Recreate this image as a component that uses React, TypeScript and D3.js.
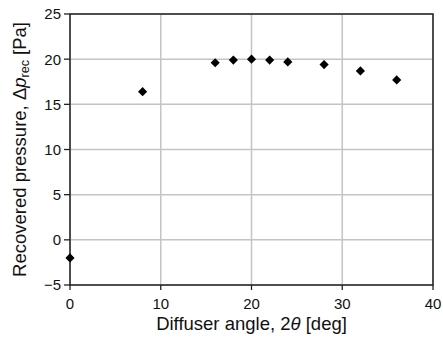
import React from "react";
import * as d3 from "d3";

const angles = [0, 8, 16, 18, 20, 22, 24, 28, 32, 36];
const pressures = [-2.0, 16.4, 19.6, 19.9, 20.0, 19.9, 19.7, 19.4, 18.7, 17.7];
const xTicks = [0, 10, 20, 30, 40];
const yTicks = [-5, 0, 5, 10, 15, 20, 25];

export default function App() {
  const W = 443, H = 337;
  const m = { left: 70, right: 10, top: 14, bottom: 52 };
  const x = d3.scaleLinear().domain([0, 40]).range([m.left, W - m.right]);
  const y = d3.scaleLinear().domain([-5, 25]).range([H - m.bottom, m.top]);
  const font = "'Liberation Sans', Arial, sans-serif";
  const sym = d3.symbol().type(d3.symbolSquare).size(42)() as string;
  return (
    <svg width={W} height={H} style={{ position: "absolute", left: 0, top: 0 }} fontFamily={font}>
      {yTicks.map((t) => (
        <line key={"gy" + t} x1={x(0)} x2={x(40)} y1={y(t)} y2={y(t)} stroke="#c4c4c4" strokeWidth={1.5} />
      ))}
      {xTicks.map((t) => (
        <line key={"gx" + t} x1={x(t)} x2={x(t)} y1={y(-5)} y2={y(25)} stroke="#c4c4c4" strokeWidth={1.5} />
      ))}
      <rect x={x(0)} y={y(25)} width={x(40) - x(0)} height={y(-5) - y(25)} fill="none" stroke="#222" strokeWidth={1.5} />
      {yTicks.map((t) => (
        <g key={"ty" + t}>
          <line x1={x(0) - 6} x2={x(0)} y1={y(t)} y2={y(t)} stroke="#222" strokeWidth={1.3} />
          <text x={x(0) - 9} y={y(t)} dy="0.36em" textAnchor="end" fontSize={15} fill="#111">
            {t < 0 ? "\u2212" + Math.abs(t) : t}
          </text>
        </g>
      ))}
      {xTicks.map((t) => (
        <g key={"tx" + t}>
          <line x1={x(t)} x2={x(t)} y1={y(-5)} y2={y(-5) + 5} stroke="#222" strokeWidth={1.3} />
          <text x={x(t)} y={y(-5) + 24} textAnchor="middle" fontSize={15} fill="#111">
            {t}
          </text>
        </g>
      ))}
      {angles.map((a, i) => (
        <path key={"p" + i} d={sym} transform={`translate(${x(a)},${y(pressures[i])}) rotate(45)`} fill="#000" />
      ))}
      <text x={(x(0) + x(40)) / 2} y={330} textAnchor="middle" fontSize={18.5} fill="#111">
        Diffuser angle, 2<tspan fontStyle="italic">θ</tspan> [deg]
      </text>
      <text transform={`translate(26,${(y(-5) + y(25)) / 2}) rotate(-90)`} textAnchor="middle" fontSize={18.5} fill="#111">
        Recovered pressure, Δ<tspan fontStyle="italic">p</tspan>
        <tspan fontSize={12.5} dy={3}>rec</tspan>
        <tspan dy={-3}> [Pa]</tspan>
      </text>
    </svg>
  );
}
